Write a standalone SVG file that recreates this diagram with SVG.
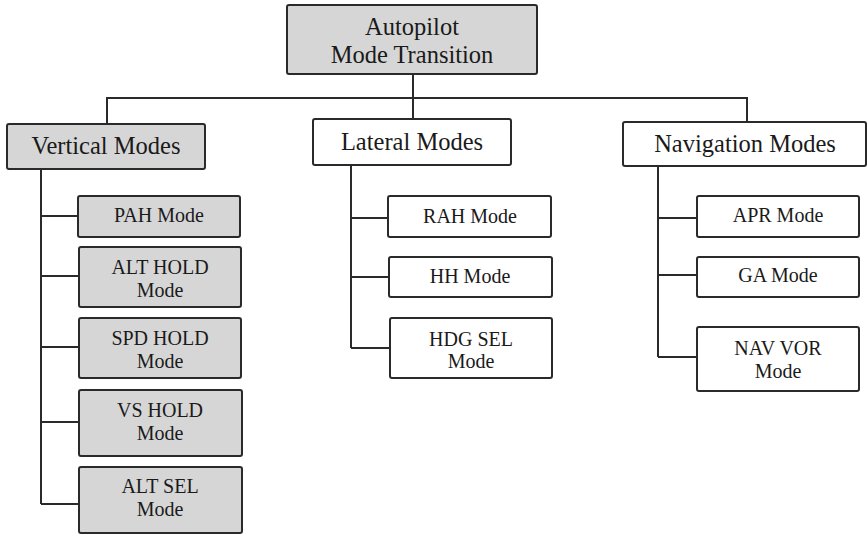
<svg xmlns="http://www.w3.org/2000/svg" width="868" height="536" viewBox="0 0 868 536">
  <style>
    .box { stroke: #2a2a2a; stroke-width: 2; }
    .gray { fill: #d6d6d6; }
    .white { fill: #ffffff; }
    .link { fill: none; stroke: #2a2a2a; stroke-width: 2; }
    text { font-family: "Liberation Serif", "Times New Roman", serif; fill: #1a1a1a; text-anchor: middle; }
    .big { font-size: 24.5px; }
    .small { font-size: 20px; }
  </style>
  <rect width="868" height="536" fill="#ffffff"/>

  <!-- connectors -->
  <g id="connectors" class="link">
    <path d="M413 74 V119"/>
    <path d="M107 124 V98 H747 V122"/>
    <!-- vertical branch -->
    <path d="M41 169 V504"/>
    <path d="M41 216 H78 M41 276 H79 M41 347 H79 M41 422 H79 M41 504 H79"/>
    <!-- lateral branch -->
    <path d="M351 165 V348"/>
    <path d="M351 218 H388 M351 277 H389 M351 348 H390"/>
    <!-- navigation branch -->
    <path d="M658 166 V357"/>
    <path d="M658 218 H697 M658 275 H697 M658 357 H697"/>
  </g>

  <g id="root">
    <rect class="box gray" x="287" y="5" width="250" height="69" rx="2"/>
    <text class="big" x="412" y="35">Autopilot</text>
    <text class="big" x="412" y="63">Mode Transition</text>
  </g>

  <g id="vertical">
    <rect class="box gray" x="7" y="124" width="198" height="45" rx="2"/>
    <text class="big" x="106" y="154">Vertical Modes</text>
  </g>
  <g id="lateral">
    <rect class="box white" x="313" y="119" width="198" height="46" rx="2"/>
    <text class="big" x="412" y="150">Lateral Modes</text>
  </g>
  <g id="navigation">
    <rect class="box white" x="623" y="122" width="243" height="44" rx="2"/>
    <text class="big" x="745" y="152">Navigation Modes</text>
  </g>

  <g id="pah">
    <rect class="box gray" x="78" y="196" width="162" height="41" rx="2"/>
    <text class="small" x="159" y="222">PAH Mode</text>
  </g>
  <g id="alt-hold">
    <rect class="box gray" x="79" y="247" width="162" height="60" rx="2"/>
    <text class="small" x="160" y="274">ALT HOLD</text>
    <text class="small" x="160" y="297">Mode</text>
  </g>
  <g id="spd-hold">
    <rect class="box gray" x="79" y="318" width="162" height="60" rx="2"/>
    <text class="small" x="160" y="345">SPD HOLD</text>
    <text class="small" x="160" y="368">Mode</text>
  </g>
  <g id="vs-hold">
    <rect class="box gray" x="79" y="390" width="163" height="66" rx="2"/>
    <text class="small" x="160" y="417">VS HOLD</text>
    <text class="small" x="160" y="440">Mode</text>
  </g>
  <g id="alt-sel">
    <rect class="box gray" x="79" y="467" width="163" height="66" rx="2"/>
    <text class="small" x="160" y="493">ALT SEL</text>
    <text class="small" x="160" y="516">Mode</text>
  </g>

  <g id="rah">
    <rect class="box white" x="388" y="196" width="163" height="41" rx="2"/>
    <text class="small" x="470" y="223">RAH Mode</text>
  </g>
  <g id="hh">
    <rect class="box white" x="389" y="257" width="163" height="40" rx="2"/>
    <text class="small" x="470" y="283">HH Mode</text>
  </g>
  <g id="hdg-sel">
    <rect class="box white" x="390" y="318" width="162" height="60" rx="2"/>
    <text class="small" x="471" y="346">HDG SEL</text>
    <text class="small" x="471" y="368">Mode</text>
  </g>

  <g id="apr">
    <rect class="box white" x="697" y="196" width="162" height="41" rx="2"/>
    <text class="small" x="778" y="222">APR Mode</text>
  </g>
  <g id="ga">
    <rect class="box white" x="697" y="257" width="162" height="40" rx="2"/>
    <text class="small" x="778" y="282">GA Mode</text>
  </g>
  <g id="nav-vor">
    <rect class="box white" x="697" y="327" width="162" height="64" rx="2"/>
    <text class="small" x="778" y="355">NAV VOR</text>
    <text class="small" x="778" y="378">Mode</text>
  </g>
</svg>
